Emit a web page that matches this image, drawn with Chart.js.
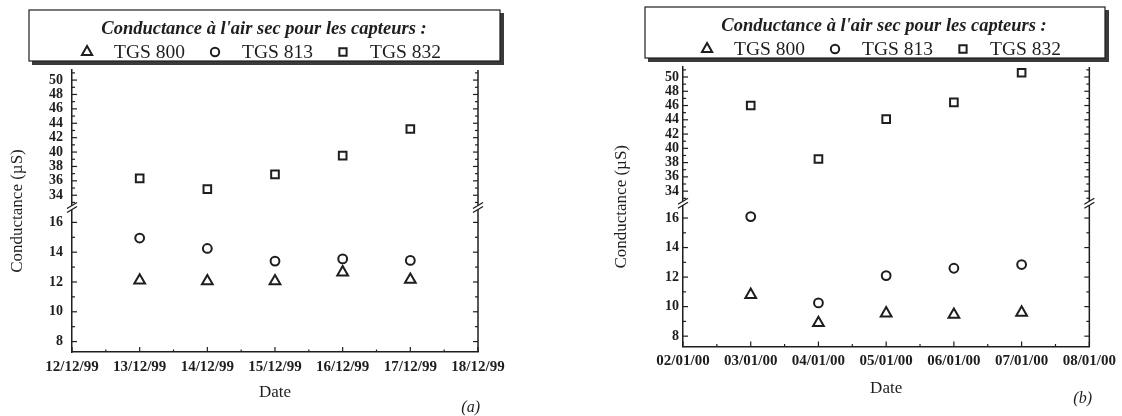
<!DOCTYPE html>
<html>
<head>
<meta charset="utf-8">
<script src="https://cdn.jsdelivr.net/npm/chart.js@4.4.1/dist/chart.umd.min.js"></script>
<style>
  html, body { margin: 0; padding: 0; background: #fff; }
  #wrap { position: relative; width: 1122px; height: 416px; }
  .panel { position: absolute; top: 0; width: 561px; height: 416px; }
</style>
</head>
<body>
<div id="wrap">
  <div class="panel" style="left:0"><canvas id="chartA" width="561" height="416"></canvas></div>
  <div class="panel" style="left:561px"><canvas id="chartB" width="561" height="416"></canvas></div>
</div>
<script>
// axis dates (tick labels) and measurement days
const datesA = ['12/12/99', '13/12/99', '14/12/99', '15/12/99', '16/12/99', '17/12/99', '18/12/99'];
const daysA = ['13/12/99', '14/12/99', '15/12/99', '16/12/99', '17/12/99'];
const datesB = ['02/01/00', '03/01/00', '04/01/00', '05/01/00', '06/01/00', '07/01/00', '08/01/00'];
const daysB = ['03/01/00', '04/01/00', '05/01/00', '06/01/00', '07/01/00'];

// conductance (µS), panel (a)
const tgs800A = [12.1, 12.05, 12.05, 12.65, 12.15];
const tgs813A = [14.95, 14.25, 13.4, 13.55, 13.45];
const tgs832A = [36.35, 34.85, 36.9, 39.5, 43.2];
// panel (b)
const tgs800B = [10.8, 8.9, 9.55, 9.45, 9.6];
const tgs813B = [16.1, 10.25, 12.1, 12.6, 12.85];
const tgs832B = [46.0, 38.5, 44.1, 46.45, 50.6];

// broken y axis: lower and upper part
const lowerTicks = [8, 10, 12, 14, 16];
const upperTicks = [34, 36, 38, 40, 42, 44, 46, 48, 50];
const lowerRange = [7.3, 17.0];
const upperRange = [32.3, 51.4];

const legendTitle = "Conductance à l'air sec pour les capteurs :";
const SERIF = '"Liberation Serif", "DejaVu Serif", serif';
const INK = '#1e1e1e';

const decor = {
  id: 'decor',
  afterDraw(chart, args, o) {
    const ctx = chart.ctx, a = chart.chartArea;
    const lo = chart.scales.yLow, hi = chart.scales.yHigh, xs = chart.scales.x;
    const line = (x1, y1, x2, y2) => { ctx.beginPath(); ctx.moveTo(x1, y1); ctx.lineTo(x2, y2); ctx.stroke(); };
    ctx.save();
    ctx.strokeStyle = INK;
    ctx.lineWidth = 1.5;
    line(a.right, a.top, a.right, a.bottom);

    // inward ticks, left and right
    ctx.lineWidth = 1.2;
    [[lo, lowerTicks], [hi, upperTicks]].forEach(([s, major]) => {
      for (let v = Math.ceil(s.min); v <= s.max; v++) {
        const y = s.getPixelForValue(v);
        const len = major.includes(v) ? 5 : 3;
        line(a.left, y, a.left + len, y);
        line(a.right, y, a.right - len, y);
      }
    });
    for (let v = xs.min; v <= xs.max; v += 0.5) {
      const x = xs.getPixelForValue(v);
      line(x, a.bottom, x, a.bottom - (Number.isInteger(v) ? 5 : 2.5));
    }

    // axis break marks
    const yb = hi.bottom;
    [a.left, a.right].forEach(x => {
      ctx.fillStyle = '#fff';
      ctx.beginPath();
      ctx.moveTo(x - 5, yb + 1); ctx.lineTo(x + 5, yb - 5);
      ctx.lineTo(x + 5, yb - 1); ctx.lineTo(x - 5, yb + 5);
      ctx.closePath(); ctx.fill();
      ctx.lineWidth = 1.4;
      line(x - 5, yb + 1, x + 5, yb - 5);
      line(x - 5, yb + 5, x + 5, yb - 1);
    });

    // y axis title
    ctx.fillStyle = INK;
    ctx.font = '17px ' + SERIF;
    ctx.textAlign = 'center';
    ctx.textBaseline = 'middle';
    ctx.save();
    ctx.translate(o.yTitleX, (a.top + a.bottom) / 2);
    ctx.rotate(-Math.PI / 2);
    ctx.fillText('Conductance (µS)', 0, 0);
    ctx.restore();

    // panel tag
    ctx.font = 'italic 16px ' + SERIF;
    ctx.textAlign = 'right';
    ctx.fillText(o.tag, o.tagX, o.tagY);

    // legend box
    const f = o.frame;
    ctx.fillStyle = '#fff';
    ctx.fillRect(f.l, f.t, f.r - f.l, f.b - f.t);
    ctx.fillStyle = '#3a3a3a';
    ctx.fillRect(f.r, f.t + 3, 4, f.b - f.t + 1);
    ctx.fillRect(f.l + 3, f.b, f.r - f.l + 1, 4);
    ctx.lineWidth = 1.2;
    ctx.strokeRect(f.l, f.t, f.r - f.l, f.b - f.t);

    ctx.fillStyle = INK;
    ctx.textAlign = 'center';
    ctx.font = 'italic bold 18.5px ' + SERIF;
    ctx.fillText(legendTitle, o.legendCx, f.t + 19);

    ctx.font = '19.5px ' + SERIF;
    const gapIn = 27, gapOut = 30;
    const items = chart.data.datasets.map(d => ({ d, w: ctx.measureText(d.label).width }));
    const total = items.reduce((s, it) => s + gapIn + it.w, 0) + gapOut * (items.length - 1);
    let x = o.legendCx - total / 2;
    const iy = f.t + 42;
    ctx.textAlign = 'left';
    items.forEach(it => {
      ctx.fillStyle = '#fff';
      ctx.strokeStyle = INK;
      ctx.lineWidth = 2;
      Chart.helpers.drawPoint(ctx, { pointStyle: it.d.pointStyle, radius: it.d.pointRadius * 0.95, borderWidth: 2, rotation: 0 }, x, iy);
      ctx.fillStyle = INK;
      ctx.fillText(it.d.label, x + gapIn, iy + 1);
      x += gapIn + it.w + gapOut;
    });
    ctx.restore();
  }
};

function series(label, style, radius, days, dates, values, axis) {
  return {
    label: label,
    data: days.map((d, i) => ({ x: dates.indexOf(d), y: values[i] })),
    yAxisID: axis,
    pointStyle: style,
    pointRadius: radius,
    pointBorderWidth: 2,
    borderColor: INK,
    backgroundColor: '#fff',
    showLine: false
  };
}

function yAxis(range, ticks, weight, p) {
  return {
    type: 'linear',
    position: 'left',
    stack: 'cond',
    stackWeight: weight,
    bounds: 'data',
    min: range[0],
    max: range[1],
    afterBuildTicks: s => { s.ticks = ticks.map(v => ({ value: v })); },
    afterFit: s => { s.width = 40; },
    grid: { display: false, drawTicks: false },
    border: { display: true, color: INK, width: 1.5 },
    ticks: { autoSkip: false, padding: p.tickPad, color: INK, font: { family: SERIF, size: 14, weight: 'bold' } }
  };
}

function makeChart(id, dates, days, s800, s813, s832, p) {
  return new Chart(document.getElementById(id), {
    type: 'scatter',
    data: {
      datasets: [
        series('TGS 800', 'triangle', 6.2, days, dates, s800, 'yLow'),
        series('TGS 813', 'circle', 4.4, days, dates, s813, 'yLow'),
        series('TGS 832', 'rect', 5.4, days, dates, s832, 'yHigh')
      ]
    },
    options: {
      responsive: false,
      animation: false,
      layout: { padding: p.padding },
      plugins: {
        legend: { display: false },
        tooltip: { enabled: false },
        decor: p.decor
      },
      scales: {
        x: {
          type: 'linear',
          bounds: 'data',
          min: 0,
          max: dates.length - 1,
          afterBuildTicks: s => { s.ticks = dates.map((d, i) => ({ value: i })); },
          afterFit: s => { s.height = p.xHeight; },
          grid: { display: false, drawTicks: false },
          border: { display: true, color: INK, width: 1.5 },
          ticks: {
            autoSkip: false, maxRotation: 0, padding: 6, color: INK,
            font: { family: SERIF, size: 15, weight: 'bold' },
            callback: v => dates[v]
          },
          title: { display: true, text: 'Date', color: INK, padding: 0, font: { family: SERIF, size: 17 } }
        },
        yLow: yAxis(lowerRange, lowerTicks, 144, p),
        yHigh: yAxis(upperRange, upperTicks, 137, p)
      }
    },
    plugins: [decor]
  });
}

makeChart('chartA', datesA, daysA, tgs800A, tgs813A, tgs832A, {
  padding: { left: 32, right: 83, top: 70, bottom: 13.5 },
  xHeight: 50.5,
  tickPad: 9,
  decor: { yTitleX: 18, tag: '(a)', tagX: 480, tagY: 407.5, legendCx: 264, frame: { l: 29, r: 500, t: 10, b: 61 } }
});

makeChart('chartB', datesB, daysB, tgs800B, tgs813B, tgs832B, {
  padding: { left: 82, right: 30, top: 67, bottom: 16.8 },
  xHeight: 52.7,
  tickPad: 4,
  decor: { yTitleX: 61, tag: '(b)', tagX: 531, tagY: 399, legendCx: 323, frame: { l: 84, r: 544, t: 7, b: 58 } }
});
</script>
</body>
</html>
